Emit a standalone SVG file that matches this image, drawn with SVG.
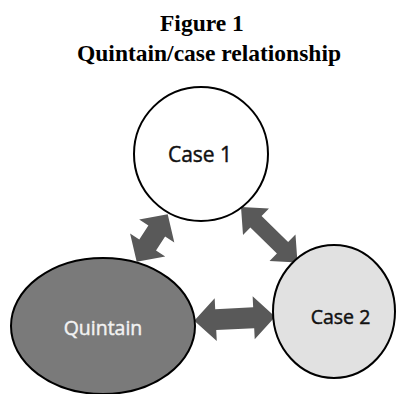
<svg xmlns="http://www.w3.org/2000/svg" width="396" height="394" viewBox="0 0 396 394">
<style>
.title{font-family:"Liberation Serif","Times New Roman",serif;font-weight:bold;font-size:23.5px;fill:#000}
.lbl{font-family:"Open Sans","Noto Sans",sans-serif;text-anchor:middle;stroke-width:0.45}
.node{stroke:#000;stroke-width:2}
.arrow{fill:#595959;stroke:none}
</style>
<rect width="396" height="394" fill="#fff"/>
<text class="title" x="160" y="31">Figure 1</text>
<text class="title" x="77" y="61">Quintain/case relationship</text>
<g id="connectors">
<polygon class="arrow" transform="translate(152.2,238) rotate(-56.8)" points="-28.3,0 -8.3,-21 -8.3,-10 8.3,-10 8.3,-21 28.3,0 8.3,21 8.3,10 -8.3,10 -8.3,21"/>
<polygon class="arrow" transform="translate(269.25,234.75) rotate(44.5)" points="-39.6,0 -18.6,-18.5 -18.6,-8 18.6,-8 18.6,-18.5 39.6,0 18.6,18.5 18.6,8 -18.6,8 -18.6,18.5"/>
<polygon class="arrow" transform="translate(234.7,318.7) rotate(-2.8)" points="-40.5,0 -19,-21.5 -19,-10.5 19,-10.5 19,-21.5 40.5,0 19,21.5 19,10.5 -19,10.5 -19,21.5"/>
</g>
<g id="case1">
<circle class="node" cx="201" cy="154" r="67" fill="#fff"/>
<text class="lbl" x="200" y="161.5" font-size="21" fill="#111" stroke="#111">Case 1</text>
</g>
<g id="quintain">
<ellipse class="node" cx="103" cy="326" rx="92" ry="68" fill="#7a7a7a"/>
<text class="lbl" x="103" y="335" font-size="19.5" fill="#f2f2f2" stroke="#f2f2f2">Quintain</text>
</g>
<g id="case2">
<ellipse class="node" cx="334" cy="311.5" rx="61" ry="66.5" fill="#e1e1e1"/>
<text class="lbl" x="340.5" y="324" font-size="19.5" fill="#111" stroke="#111">Case 2</text>
</g>
</svg>
